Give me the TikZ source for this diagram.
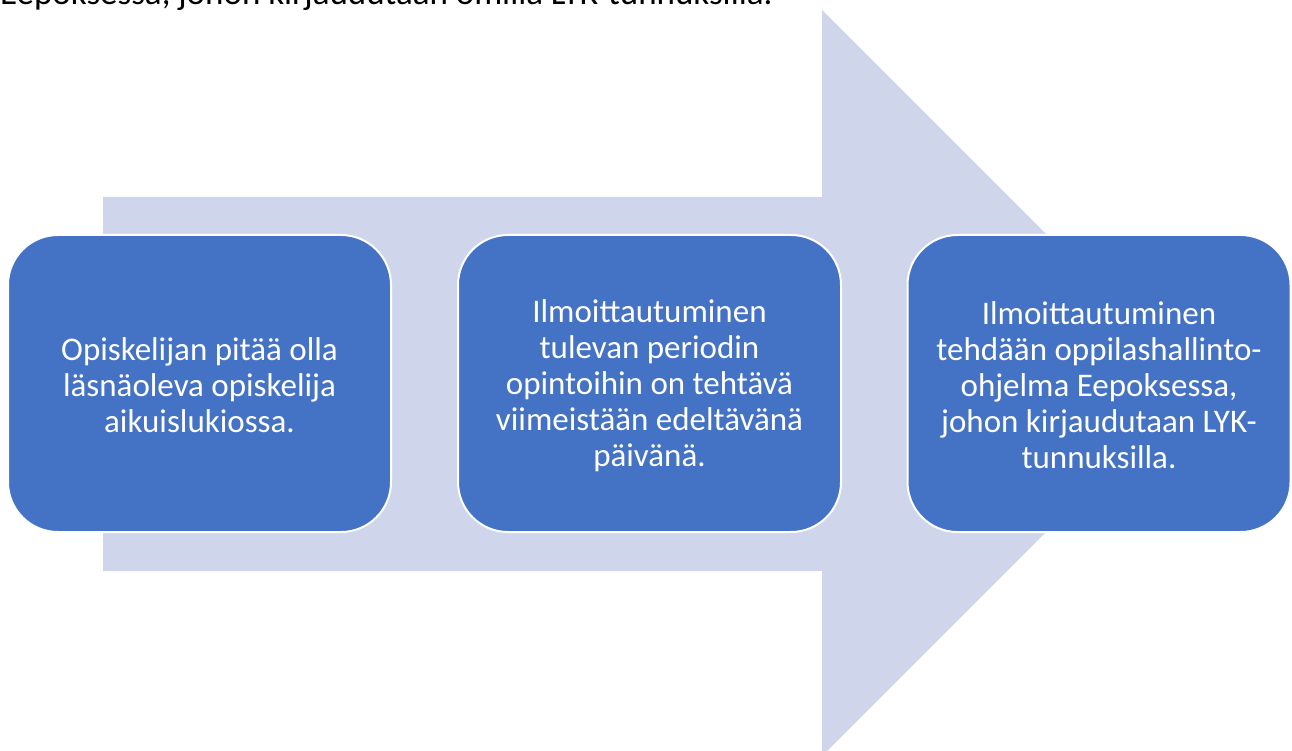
\documentclass[tikz,border=0pt]{standalone}
\usepackage{fontspec}
\setmainfont{Carlito}
\definecolor{arrowfill}{HTML}{CFD5EA}
\definecolor{boxfill}{HTML}{4472C4}
\tikzset{
  stepbox/.style={rectangle, rounded corners=50pt, fill=boxfill, draw=white, line width=2pt,
    minimum width=383pt, minimum height=297pt, align=center, text=white,
    font=\fontsize{33}{36}\selectfont, inner sep=0pt},
  steptext/.style={align=center, text=white, font=\fontsize{33}{36}\selectfont, inner sep=0pt},
  toptext/.style={anchor=base west, inner sep=0pt, font=\fontsize{35}{40}\selectfont, text=black}
}
\begin{document}
\begin{tikzpicture}[x=1pt,y=-1pt]
\useasboundingbox (0,0) rectangle (1292,751);
\clip (0,0) rectangle (1292,751);
\node[toptext] (top) at (0,5) {Eepoksessa, johon kirjaudutaan omilla LYK-tunnuksilla.};
\fill[arrowfill] (103,197) -- (822,197) -- (822,10) -- (1195,383) -- (822,756) -- (822,571) -- (103,571) -- cycle;
\node[stepbox] (b1) at (199.5,383.5) {};
\node[stepbox] (b2) at (649.5,383.5) {};
\node[stepbox] (b3) at (1099,383.5) {};
\node[steptext] (t1) at ([yshift=-2pt]b1.center) {Opiskelijan pitää olla\\läsnäoleva opiskelija\\aikuislukiossa.};
\node[steptext] (t2) at ([yshift=-2pt]b2.center) {Ilmoittautuminen\\tulevan periodin\\opintoihin on tehtävä\\viimeistään edeltävänä\\päivänä.};
\node[steptext] (t3) at ([yshift=-2pt]b3.center) {Ilmoittautuminen\\tehdään oppilashallinto-\\ohjelma Eepoksessa,\\johon kirjaudutaan LYK-\\tunnuksilla.};
\end{tikzpicture}
\end{document}
